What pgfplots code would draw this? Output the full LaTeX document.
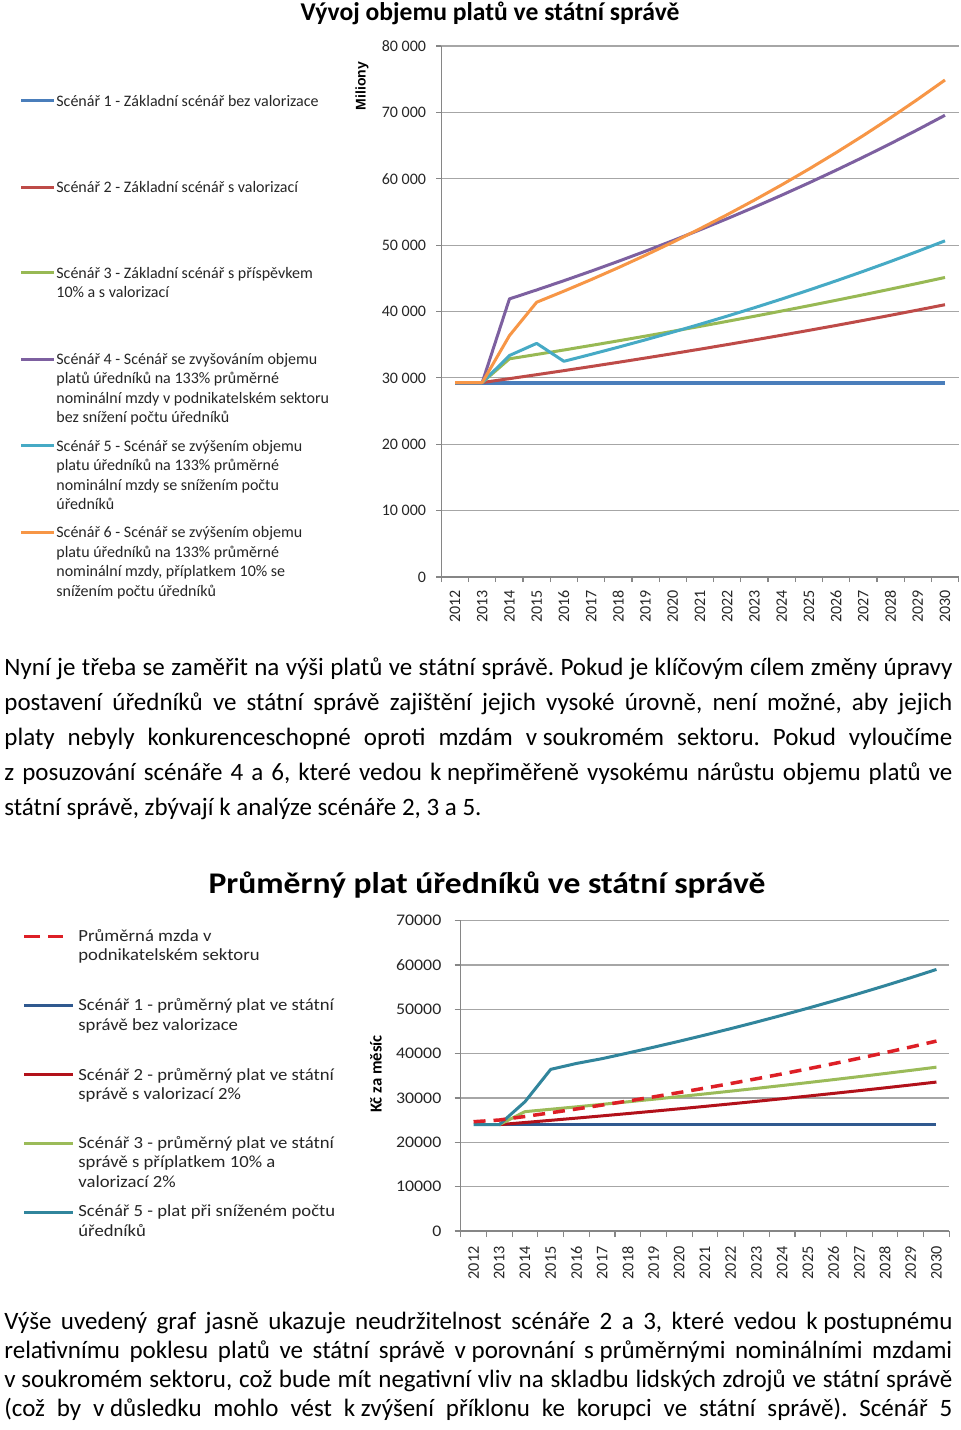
\documentclass[border=0pt]{standalone}
\usepackage{fontspec}
\setmainfont{Carlito}
\newfontfamily\chtwo[FakeStretch=1.1]{Carlito}
\newfontfamily\chtwoT[FakeStretch=1.12]{Carlito}
\newfontfamily\arialf{Liberation Sans}
\usepackage{pgfplots}
\pgfplotsset{compat=1.18}
\newcommand\fs[1]{\fontsize{#1}{#1}\selectfont}
\newcommand\ns{\kern0.226em}
\definecolor{c1b}{HTML}{4A7EBB}
\definecolor{c1r}{HTML}{BE4B48}
\definecolor{c1g}{HTML}{98B954}
\definecolor{c1p}{HTML}{7D60A0}
\definecolor{c1t}{HTML}{46AAC5}
\definecolor{c1o}{HTML}{F79646}
\definecolor{c2b}{HTML}{30598F}
\definecolor{c2r}{HTML}{B2111A}
\definecolor{c2d}{HTML}{DD1F26}
\definecolor{c2g}{HTML}{9BBB59}
\definecolor{c2t}{HTML}{31859C}
\definecolor{axg}{HTML}{868686}
\definecolor{grd}{HTML}{A6A6A6}
\definecolor{txt}{HTML}{262626}
\pgfplotsset{
  mychart/.style={
    scale only axis, anchor=south west,
    axis x line=bottom, axis y line=left,
    axis line style={-, draw=axg, line width=0.6pt},
    every outer x axis line/.append style={-},
    every outer y axis line/.append style={-},
    tick align=outside,
    tick style={draw=axg, line width=0.6pt},
    scaled y ticks=false,
    x tick label as interval,
    xtick={-0.5,0.5,...,18.5},
    xticklabels={2012,2013,2014,2015,2016,2017,2018,2019,2020,2021,2022,2023,2024,2025,2026,2027,2028,2029,2030},
    xmin=-0.5, xmax=18.5, ymin=0,
    ymajorgrids,
    xticklabel style={rotate=90, anchor=east, inner sep=0pt, text=txt},
    yticklabel style={anchor=east, inner sep=0pt, text=txt},
  }
}
\begin{document}
\frenchspacing
\begin{tikzpicture}
\path[use as bounding box, fill=white] (0pt,0pt) rectangle (480pt,-715pt);
% ---------------- Chart 1
\begin{axis}[mychart,
  at={(220.7pt,-288.5pt)}, width=258.6pt, height=265.5pt,
  ymax=80000, ytick={0,10000,20000,30000,40000,50000,60000,70000,80000},
  yticklabels={0,10 000,20 000,30 000,40 000,50 000,60 000,70 000,80 000},
  major tick length=2.5pt,
  grid style={draw=grd, line width=0.6pt},
  xticklabel shift=4pt, yticklabel shift=5pt,
  ticklabel style={font=\fs{8pt}},
]
\addplot[c1b, line width=2pt] coordinates {(0,29300)(1,29300)(2,29300)(3,29300)(4,29300)(5,29300)(6,29300)(7,29300)(8,29300)(9,29300)(10,29300)(11,29300)(12,29300)(13,29300)(14,29300)(15,29300)(16,29300)(17,29300)(18,29300)};
\addplot[c1r, line width=1.5pt, line join=round] coordinates {(0,29300)(1,29300)(2,29886)(3,30484)(4,31093)(5,31715)(6,32349)(7,32996)(8,33656)(9,34329)(10,35016)(11,35716)(12,36430)(13,37159)(14,37902)(15,38660)(16,39434)(17,40222)(18,41027)};
\addplot[c1g, line width=1.5pt, line join=round] coordinates {(0,29300)(1,29300)(2,32875)(3,33532)(4,34202)(5,34887)(6,35584)(7,36296)(8,37022)(9,37762)(10,38518)(11,39288)(12,40073)(13,40875)(14,41692)(15,42526)(16,43377)(17,44244)(18,45130)};
\addplot[c1p, line width=1.5pt, line join=round] coordinates {(0,29300)(1,29300)(2,41900)(3,43249)(4,44642)(5,46079)(6,47563)(7,49094)(8,50675)(9,52307)(10,53991)(11,55729)(12,57524)(13,59376)(14,61288)(15,63261)(16,65298)(17,67400)(18,69570)};
\addplot[c1t, line width=1.5pt, line join=round] coordinates {(0,29300)(1,29300)(2,33370)(3,35200)(4,32500)(5,33547)(6,34627)(7,35742)(8,36893)(9,38081)(10,39307)(11,40573)(12,41879)(13,43228)(14,44620)(15,46056)(16,47539)(17,49070)(18,50650)};
\addplot[c1o, line width=1.5pt, line join=round] coordinates {(0,29300)(1,29300)(2,36370)(3,41400)(4,43068)(5,44804)(6,46609)(7,48488)(8,50442)(9,52474)(10,54589)(11,56789)(12,59078)(13,61459)(14,63935)(15,66512)(16,69192)(17,71980)(18,74881)};
\end{axis}
% ---------------- Chart 2
\begin{axis}[mychart,
  at={(230.35pt,-615.5pt)}, width=244.3pt, height=155.15pt,
  ymax=70000, ytick={0,10000,20000,30000,40000,50000,60000,70000},
  yticklabels={0,10000,20000,30000,40000,50000,60000,70000},
  major tick length=3pt,
  grid style={draw=grd, line width=0.7pt},
  xticklabel shift=4.5pt, yticklabel shift=6.5pt,
  xticklabel style={font=\fs{8.1pt}},
  yticklabel style={font=\chtwo\fs{8.1pt}},
]
\addplot[c2b, line width=1.5pt] coordinates {(0,24000)(1,24000)(2,24000)(3,24000)(4,24000)(5,24000)(6,24000)(7,24000)(8,24000)(9,24000)(10,24000)(11,24000)(12,24000)(13,24000)(14,24000)(15,24000)(16,24000)(17,24000)(18,24000)};
\addplot[c2r, line width=1.5pt, line join=round] coordinates {(1,24000)(2,24480)(3,24970)(4,25469)(5,25978)(6,26498)(7,27028)(8,27568)(9,28120)(10,28682)(11,29256)(12,29841)(13,30438)(14,31047)(15,31667)(16,32301)(17,32947)(18,33606)};
\addplot[c2g, line width=1.5pt, line join=round] coordinates {(1,24000)(2,26928)(3,27467)(4,28016)(5,28576)(6,29148)(7,29731)(8,30325)(9,30932)(10,31550)(11,32182)(12,32825)(13,33482)(14,34152)(15,34834)(16,35531)(17,36242)(18,36967)};
\addplot[c2t, line width=1.5pt, line join=round] coordinates {(0,24000)(1,24000)(2,29170)(3,36470)(4,37800)(5,38887)(6,40154)(7,41464)(8,42815)(9,44211)(10,45652)(11,47141)(12,48678)(13,50264)(14,51903)(15,53595)(16,55342)(17,57146)(18,59009)};
\addplot[c2d, line width=1.75pt, dash pattern=on 6pt off 4pt] coordinates {(0,24660)(1,25040)(2,25844)(3,26673)(4,27530)(5,28413)(6,29325)(7,30267)(8,31239)(9,32242)(10,33276)(11,34345)(12,35446)(13,36584)(14,37759)(15,38970)(16,40221)(17,41513)(18,42846)};
\end{axis}
% ---------------- texts (pixel coordinates)
\begin{scope}[x=0.5pt,y=-0.5pt, every node/.style={inner sep=0pt}]
% chart 1 title & label
\node[anchor=base, font=\bfseries\fs{12.8pt}] at (490,20) {Vývoj objemu platů ve státní správě};
\node[rotate=90, font=\arialf\bfseries\fs{7pt}] at (362,86) {Miliony};
% chart 1 legend
\begin{scope}[every node/.style={inner sep=0pt, anchor=base west, font=\fs{8pt}, text=txt}]
\draw[c1b, line width=1.5pt] (21,100.8) -- (54,100.8);
\node at (56,106) {Scénář 1 - Základní scénář bez valorizace};
\draw[c1r, line width=1.5pt] (21,187) -- (54,187);
\node at (56,192) {Scénář 2 - Základní scénář s valorizací};
\draw[c1g, line width=1.5pt] (21,272.7) -- (54,272.7);
\node at (56,278) {Scénář 3 - Základní scénář s příspěvkem};
\node at (56,297.6) {10\% a s valorizací};
\draw[c1p, line width=1.5pt] (21,359) -- (54,359);
\node at (56,364) {Scénář 4 - Scénář se zvyšováním objemu};
\node at (56,383.6) {platů úředníků na 133\% průměrné};
\node at (56,403.2) {nominální mzdy v podnikatelském sektoru};
\node at (56,422.8) {bez snížení počtu úředníků};
\draw[c1t, line width=1.5pt] (21,445.8) -- (54,445.8);
\node at (56,451) {Scénář 5 - Scénář se zvýšením objemu};
\node at (56,470.6) {platu úředníků na 133\% průměrné};
\node at (56,490.2) {nominální mzdy se snížením počtu};
\node at (56,509.8) {úředníků};
\draw[c1o, line width=1.5pt] (21,532.4) -- (54,532.4);
\node at (56,537.5) {Scénář 6 - Scénář se zvýšením objemu};
\node at (56,557) {platu úředníků na 133\% průměrné};
\node at (56,576.6) {nominální mzdy, příplatkem 10\% se};
\node at (56,596.2) {snížením počtu úředníků};
\end{scope}
% paragraph 1
\begin{scope}[every node/.style={inner sep=0pt, anchor=base west, font=\fs{12.5pt}, text=black}]
\node at (4,675) {\makebox[474pt][s]{Nyní je třeba se zaměřit na výši platů ve státní správě. Pokud je klíčovým cílem změny úpravy}};
\node at (4,710) {\makebox[474pt][s]{postavení úředníků ve státní správě zajištění jejich vysoké úrovně, není možné, aby jejich}};
\node at (4,745) {\makebox[474pt][s]{platy nebyly konkurenceschopné oproti mzdám v\ns soukromém sektoru. Pokud vyloučíme}};
\node at (4,780) {\makebox[474pt][s]{z posuzování scénáře 4 a 6, které vedou k\ns nepřiměřeně vysokému nárůstu objemu platů ve}};
\node at (4,815) {státní správě, zbývají k analýze scénáře 2, 3 a 5.};
% paragraph 2
\node at (4,1329) {\makebox[474pt][s]{Výše uvedený graf jasně ukazuje neudržitelnost scénáře 2 a 3, které vedou k\ns postupnému}};
\node at (4,1358) {\makebox[474pt][s]{relativnímu poklesu platů ve státní správě v\ns porovnání s\ns průměrnými nominálními mzdami}};
\node at (4,1387) {\makebox[474pt][s]{v\ns soukromém sektoru, což bude mít negativní vliv na skladbu lidských zdrojů ve státní správě}};
\node at (4,1416) {\makebox[474pt][s]{(což by v\ns důsledku mohlo vést k\ns zvýšení příklonu ke korupci ve státní správě). Scénář 5}};
\end{scope}
% chart 2 title & label
\node[anchor=base, font=\chtwoT\bfseries\fs{15pt}] at (487,893) {Průměrný plat úředníků ve státní správě};
\node[rotate=90, font=\bfseries\fs{8.35pt}] at (376,1074) {Kč za měsíc};
% chart 2 legend
\begin{scope}[every node/.style={inner sep=0pt, anchor=base west, font=\chtwo\fs{8.5pt}, text=txt}]
\draw[c2d, line width=1.75pt] (24,936.7) -- (40,936.7);
\draw[c2d, line width=1.75pt] (48,936.7) -- (63,936.7);
\node at (78,941.7) {Průměrná mzda v};
\node at (78,960.7) {podnikatelském sektoru};
\draw[c2b, line width=1.5pt] (24,1005.7) -- (73,1005.7);
\node at (78,1010.7) {Scénář 1 - průměrný plat ve státní};
\node at (78,1030) {správě bez valorizace};
\draw[c2r, line width=1.5pt] (24,1074.3) -- (73,1074.3);
\node at (78,1080) {Scénář 2 - průměrný plat ve státní};
\node at (78,1099.5) {správě s valorizací 2\%};
\draw[c2g, line width=1.5pt] (24,1143.3) -- (73,1143.3);
\node at (78,1148.3) {Scénář 3 - průměrný plat ve státní};
\node at (78,1167.7) {správě s příplatkem 10\% a};
\node at (78,1187.7) {valorizací 2\%};
\draw[c2t, line width=1.5pt] (24,1212) -- (73,1212);
\node at (78,1216.7) {Scénář 5 - plat při sníženém počtu};
\node at (78,1236) {úředníků};
\end{scope}
\end{scope}
\end{tikzpicture}
\end{document}
